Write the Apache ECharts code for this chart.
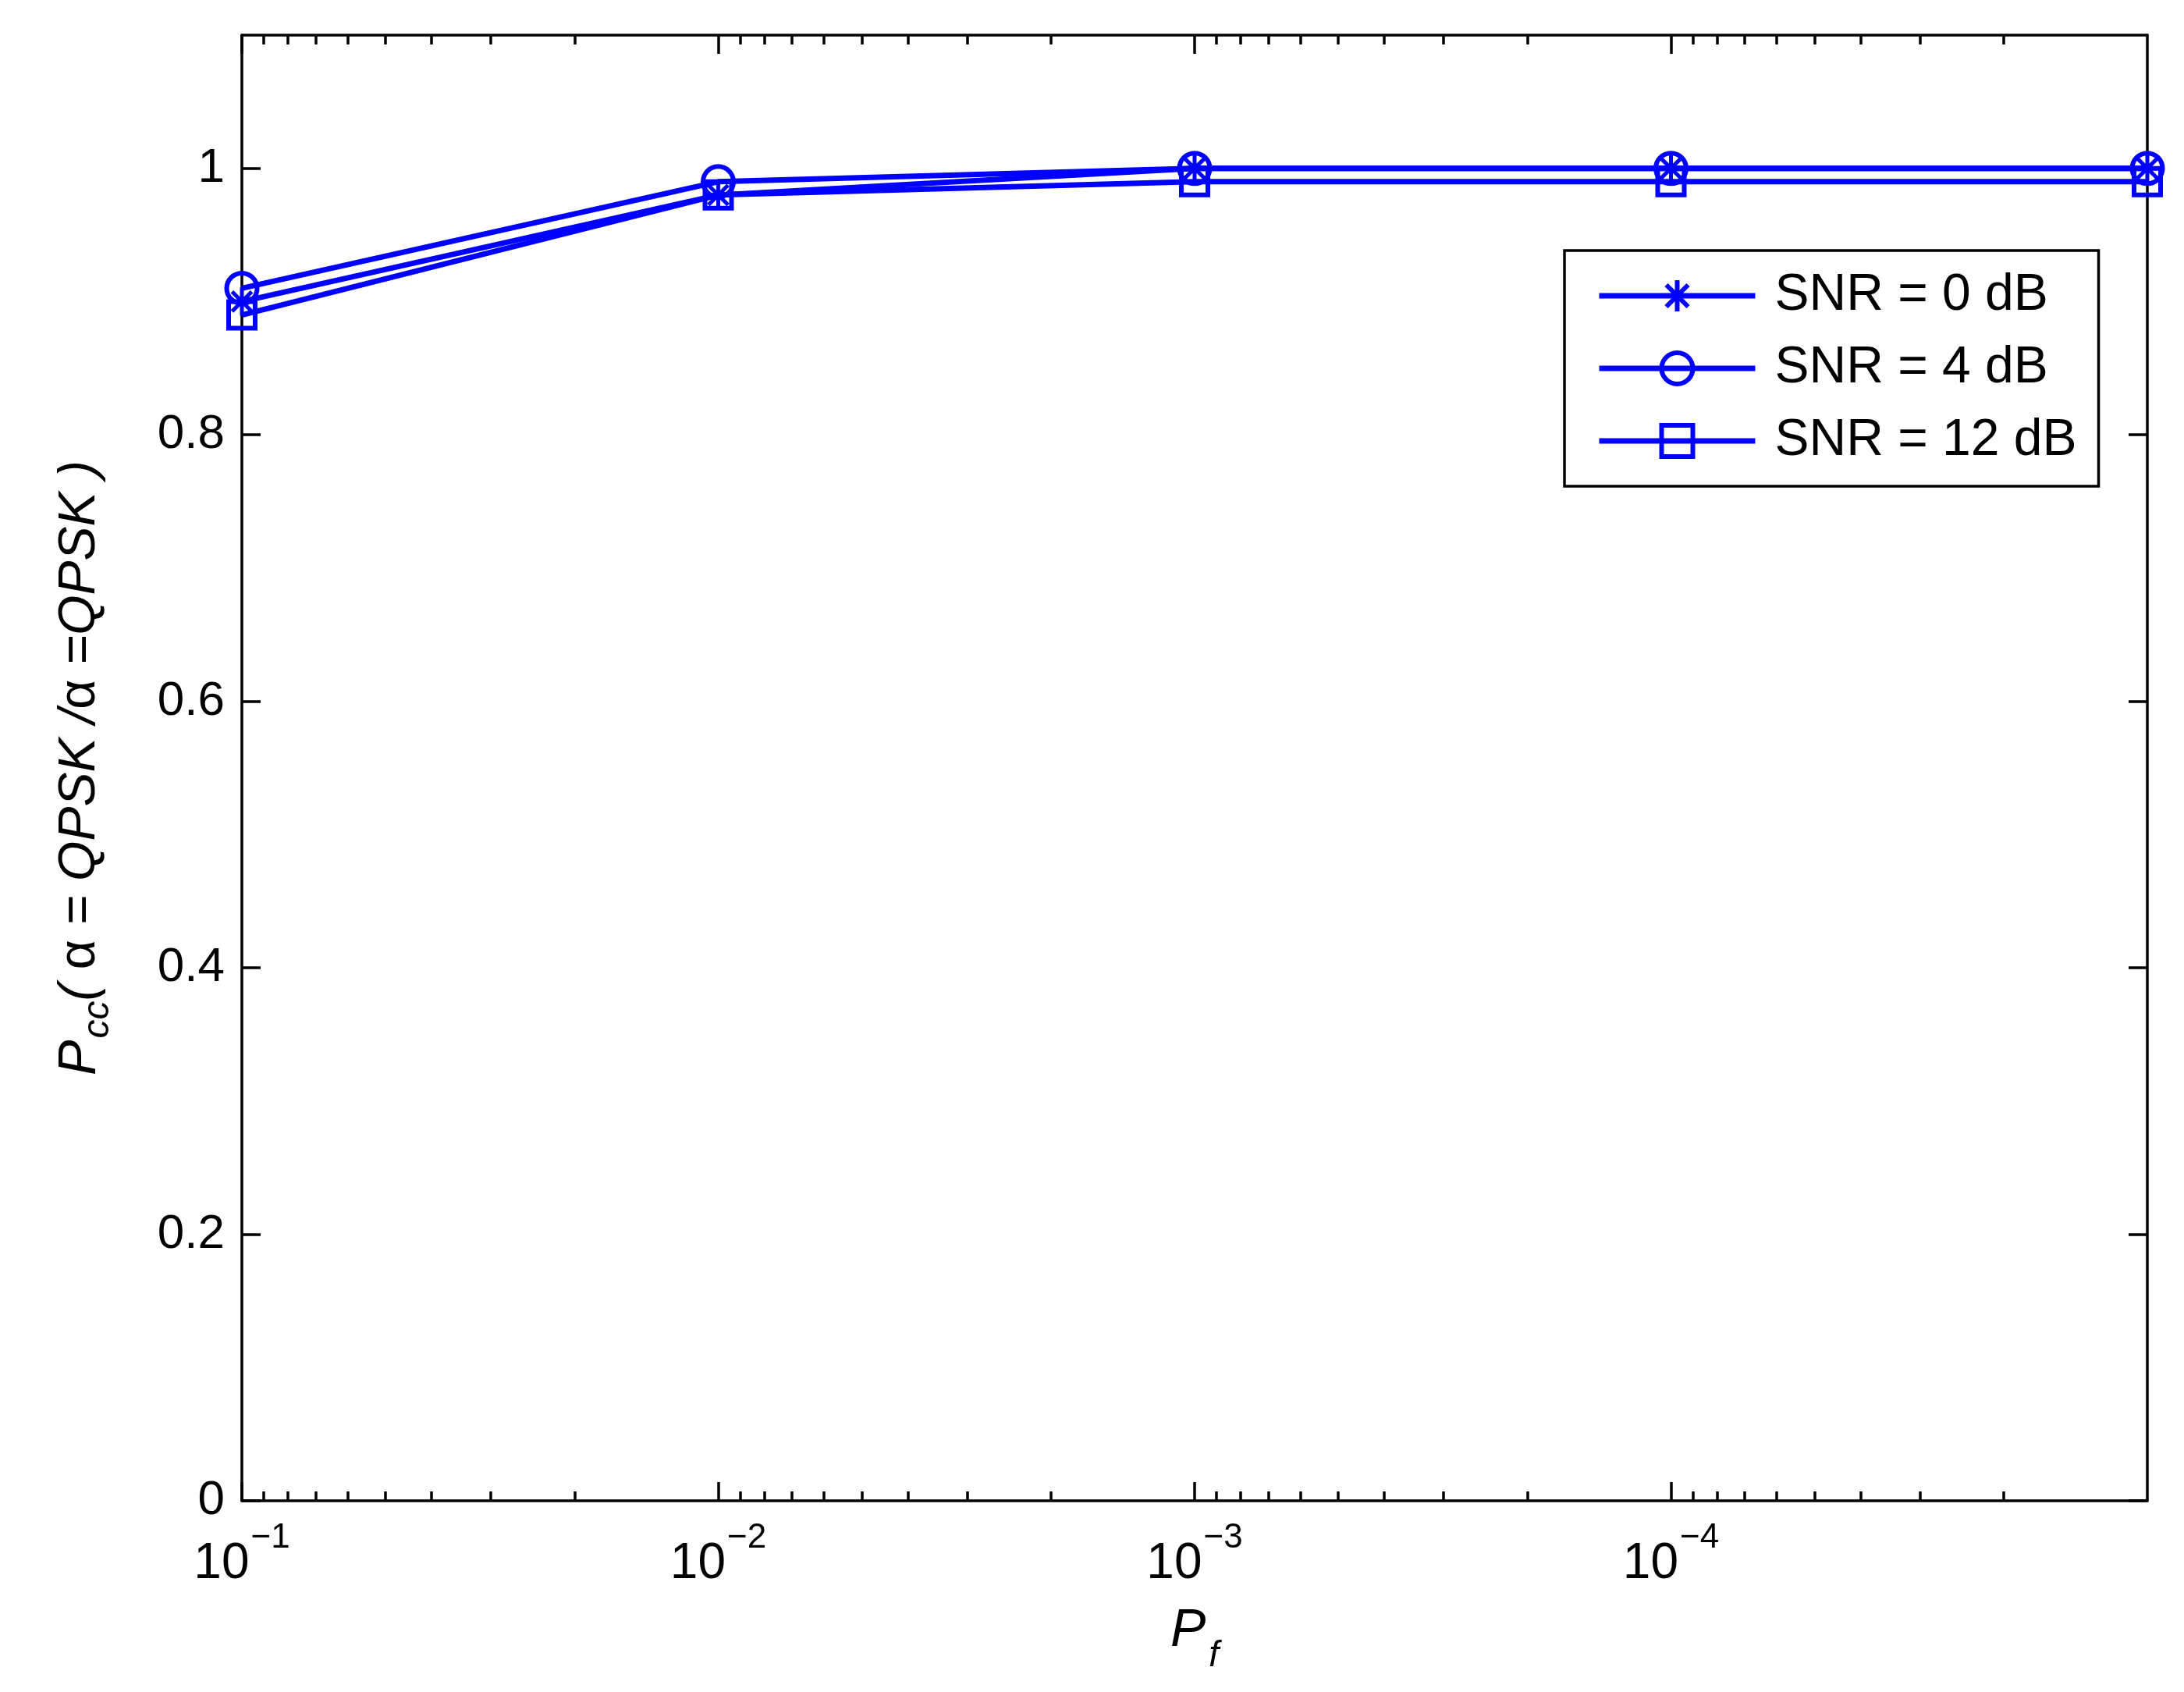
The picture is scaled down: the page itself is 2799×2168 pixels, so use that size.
<!DOCTYPE html>
<html><head><meta charset="utf-8">
<script src="https://cdn.jsdelivr.net/npm/echarts@6/dist/echarts.min.js"></script>
<style>html,body{margin:0;padding:0;background:#fff}#c{width:2799px;height:2168px}</style>
</head><body><div id="c"></div>
<script>
// ---- data ----
const pfValues = [1e-1, 1e-2, 1e-3, 1e-4, 1e-5];
const snr0 = [0.90, 0.98, 1.00, 1.00, 1.00];
const snr4 = [0.91, 0.99, 1.00, 1.00, 1.00];
const snr12 = [0.89, 0.98, 0.99, 0.99, 0.99];
const seriesNames = ['SNR = 0 dB', 'SNR = 4 dB', 'SNR = 12 dB'];
const xMajorTicks = [1e-1, 1e-2, 1e-3, 1e-4];
const xMinorMantissas = [2, 3, 4, 5, 6, 7, 8, 9];
const xMinorDecades = [1e-2, 1e-3, 1e-4, 1e-5];
const yTicks = [0, 0.2, 0.4, 0.6, 0.8, 1];
const yTickLabels = ['0', '0.2', '0.4', '0.6', '0.8', '1'];

// ---- build ----
const xMinorTicks = [];
xMinorDecades.forEach(d => xMinorMantissas.forEach(m => xMinorTicks.push(+(m * d).toPrecision(6))));

const BLUE = '#0000ff';
const FONT = 'Liberation Sans';
const AX = 3.5;
const LW = 7;
const pairs = arr => pfValues.map((x, i) => [x, arr[i]]);

const asterisk = 'path://M20,0 L20,40 M6,6 L34,34 M6,34 L34,6 M0,20 L40,20';

function xLabel(v) {
  const e = Math.round(Math.log10(v));
  return '{b|10}{s|' + (e < 0 ? '\u2212' : '') + Math.abs(e) + '}';
}

function baseX(extra) {
  return Object.assign({
    type: 'log', logBase: 10, min: 1e-5, max: 1e-1, inverse: true,
    splitLine: { show: false }, minorTick: { show: false }, minorSplitLine: { show: false }
  }, extra);
}

const chart = echarts.init(document.getElementById('c'), null, { renderer: 'canvas' });
chart.setOption({
  backgroundColor: '#fff',
  animation: false,
  textStyle: { fontFamily: FONT },
  grid: [
    { left: 310, right: 47, top: 45, bottom: 245, containLabel: false },
    { left: 310, right: 47, top: 45, bottom: 245, containLabel: false }
  ],
  legend: {
    orient: 'vertical', left: 2005, top: 321,
    padding: [25, 28, 25, 41],
    itemWidth: 200, itemHeight: 50, itemGap: 27,
    borderColor: '#000', borderWidth: 3.5, backgroundColor: '#fff',
    lineStyle: { width: LW, color: BLUE },
    itemStyle: { borderWidth: 6, borderColor: BLUE },
    textStyle: { fontFamily: FONT, fontSize: 66, lineHeight: 66, color: '#000', padding: [0, 0, 0, 20] },
    data: seriesNames
  },
  xAxis: [
    baseX({
      gridIndex: 0, position: 'bottom',
      name: '{p|P}{sub|f}', nameLocation: 'middle', nameGap: 112,
      nameTextStyle: { rich: {
        p: { fontFamily: FONT, fontSize: 68, fontStyle: 'italic', color: '#000' },
        sub: { fontFamily: FONT, fontSize: 46, fontStyle: 'italic', color: '#000', padding: [64, 0, 0, 4] }
      } },
      axisLine: { show: true, onZero: false, lineStyle: { color: '#000', width: AX } },
      axisTick: { show: true, inside: true, length: 24, lineStyle: { color: '#000', width: AX }, customValues: xMajorTicks },
      axisLabel: { show: true, margin: 26, customValues: xMajorTicks, formatter: xLabel,
        rich: {
          b: { fontFamily: FONT, fontSize: 64, color: '#000' },
          s: { fontFamily: FONT, fontSize: 44, color: '#000', padding: [0, 0, 66, 2] }
        } }
    }),
    baseX({
      gridIndex: 0, position: 'top',
      axisLine: { show: true, onZero: false, lineStyle: { color: '#000', width: AX } },
      axisTick: { show: true, inside: true, length: 24, lineStyle: { color: '#000', width: AX }, customValues: xMajorTicks },
      axisLabel: { show: false }
    }),
    baseX({
      gridIndex: 1, position: 'bottom',
      axisLine: { show: false, onZero: false },
      axisTick: { show: true, inside: true, length: 12, lineStyle: { color: '#000', width: AX }, customValues: xMinorTicks },
      axisLabel: { show: false }
    }),
    baseX({
      gridIndex: 1, position: 'top',
      axisLine: { show: false, onZero: false },
      axisTick: { show: true, inside: true, length: 12, lineStyle: { color: '#000', width: AX }, customValues: xMinorTicks },
      axisLabel: { show: false }
    })
  ],
  yAxis: [
    {
      gridIndex: 0, type: 'value', position: 'left', min: 0, max: 1.1,
      name: '{p|P}{sub|cc}{t|( }{a|\u03b1}{t| = QPSK /}{a|\u03b1}{t| =QPSK )}',
      nameLocation: 'middle', nameRotate: 90, nameGap: 160,
      nameTextStyle: { rich: {
        p: { fontFamily: FONT, fontSize: 68, fontStyle: 'italic', color: '#000' },
        sub: { fontFamily: FONT, fontSize: 48, fontStyle: 'italic', color: '#000', padding: [46, 0, 0, 2] },
        t: { fontFamily: FONT, fontSize: 66, fontStyle: 'italic', color: '#000' },
        a: { fontFamily: FONT, fontSize: 66, color: '#000' }
      } },
      splitLine: { show: false },
      axisLine: { show: true, onZero: false, lineStyle: { color: '#000', width: AX } },
      axisTick: { show: true, inside: true, length: 24, lineStyle: { color: '#000', width: AX }, customValues: yTicks },
      axisLabel: { show: true, margin: 22, customValues: yTicks, fontFamily: FONT, fontSize: 62, color: '#000',
        formatter: v => { const i = yTicks.findIndex(t => Math.abs(t - v) < 1e-9); return i >= 0 ? yTickLabels[i] : ''; } }
    },
    {
      gridIndex: 0, type: 'value', position: 'right', min: 0, max: 1.1,
      splitLine: { show: false },
      axisLine: { show: true, onZero: false, lineStyle: { color: '#000', width: AX } },
      axisTick: { show: true, inside: true, length: 24, lineStyle: { color: '#000', width: AX }, customValues: yTicks },
      axisLabel: { show: false }
    },
    {
      gridIndex: 1, type: 'value', min: 0, max: 1.1, show: false,
      axisLine: { onZero: false }
    }
  ],
  series: [
    {
      name: seriesNames[0], type: 'line', xAxisIndex: 0, yAxisIndex: 0, clip: false,
      data: pairs(snr0), symbol: asterisk, symbolSize: 36,
      lineStyle: { color: BLUE, width: LW },
      itemStyle: { color: BLUE, borderColor: BLUE, borderWidth: 5 }
    },
    {
      name: seriesNames[1], type: 'line', xAxisIndex: 0, yAxisIndex: 0, clip: false,
      data: pairs(snr4), symbol: 'circle', symbolSize: 39,
      lineStyle: { color: BLUE, width: LW },
      itemStyle: { color: 'rgba(0,0,0,0)', borderColor: BLUE, borderWidth: 6 }
    },
    {
      name: seriesNames[2], type: 'line', xAxisIndex: 0, yAxisIndex: 0, clip: false,
      data: pairs(snr12), symbol: 'rect', symbolSize: 34,
      lineStyle: { color: BLUE, width: LW },
      itemStyle: { color: 'rgba(0,0,0,0)', borderColor: BLUE, borderWidth: 6 }
    }
  ]
});
</script></body></html>
